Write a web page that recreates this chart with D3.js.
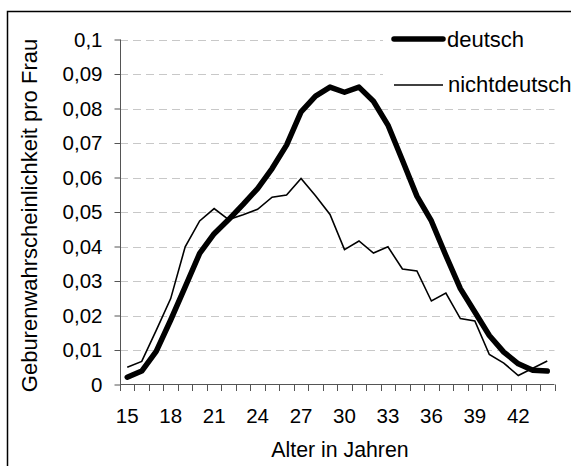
<!DOCTYPE html>
<html><head><meta charset="utf-8">
<script src="https://cdn.jsdelivr.net/npm/d3@7"></script>
<style>body{margin:0;background:#fff;} svg{display:block;font-family:"Liberation Sans",Arial,sans-serif;}</style>
</head><body>
<svg id="c" width="571" height="466"></svg>
<script>
const ages = d3.range(15, 45);
const deutsch = [0.0021,0.0039,0.0096,0.0187,0.0283,0.0380,0.0437,0.0478,0.0522,0.0568,0.0626,0.0694,0.0790,0.0836,0.0862,0.0847,0.0862,0.0821,0.0752,0.0650,0.0546,0.0474,0.0374,0.0278,0.0210,0.0142,0.0094,0.0060,0.0041,0.0039];
const nichtdeutsch = [0.0050,0.0067,0.0157,0.0249,0.0399,0.0474,0.0510,0.0478,0.0492,0.0508,0.0543,0.0549,0.0597,0.0547,0.0493,0.0391,0.0416,0.0381,0.0399,0.0335,0.0329,0.0242,0.0265,0.0191,0.0184,0.0087,0.0062,0.0026,0.0047,0.0068];
const yTicks = [0,0.01,0.02,0.03,0.04,0.05,0.06,0.07,0.08,0.09,0.1];
const xLabelAges = [15,18,21,24,27,30,33,36,39,42];

const svg = d3.select("#c");
const x = d3.scaleBand().domain(ages).range([120, 554.5]);
const y = d3.scaleLinear().domain([0, 0.1]).range([384.5, 39.5]);
const fmt = v => (v === 0 ? "0" : d3.format(".2~f")(v).replace(".", ","));

// frame
svg.append("path").attr("d", "M7.5,470 V11.5 H575").attr("fill","none").attr("stroke","#000").attr("stroke-width",1.5);

// gridlines
svg.append("g").selectAll("line").data(yTicks.filter(d => d > 0)).join("line")
  .attr("x1", 120).attr("x2", 554.5)
  .attr("y1", d => Math.round(y(d)) + 0.5).attr("y2", d => Math.round(y(d)) + 0.5)
  .attr("stroke", "#c8c8c8").attr("stroke-width", 1).attr("stroke-dasharray", "8,5");

// y axis
const yAxis = d3.axisLeft(y).tickValues(yTicks).tickFormat(fmt).tickSize(6).tickPadding(12);
const gy = svg.append("g").attr("transform", "translate(120.5,0)").call(yAxis);
gy.select(".domain").attr("stroke", "#555").attr("d", "M0," + y(0.1) + "V" + y(0));
gy.selectAll(".tick line").attr("stroke", "#555");
gy.selectAll(".tick text").attr("font-size", 20.5).attr("fill", "#000").attr("font-family","Liberation Sans, Arial, sans-serif");

// x axis ticks at band boundaries
const bounds = ages.map(a => x(a)).concat([x(44) + x.bandwidth()]);
svg.append("line").attr("x1", 120).attr("x2", 554.5).attr("y1", 384.5).attr("y2", 384.5).attr("stroke", "#555");
svg.append("g").selectAll("line").data(bounds).join("line")
  .attr("x1", d => Math.round(d) + 0.5).attr("x2", d => Math.round(d) + 0.5)
  .attr("y1", 384.5).attr("y2", 391).attr("stroke", "#555");
svg.append("g").selectAll("text").data(xLabelAges).join("text")
  .attr("x", d => x(d) + x.bandwidth() / 2).attr("y", 423)
  .attr("text-anchor", "middle").attr("font-size", 20.5).text(d => d);

// axis titles
svg.append("text").attr("x", 340).attr("y", 457).attr("text-anchor", "middle").attr("font-size", 21.3).text("Alter in Jahren");
svg.append("text").attr("transform", "translate(37,215.5) rotate(-90)").attr("text-anchor", "middle").attr("font-size", 22).text("Geburenwahrscheinlichkeit pro Frau");

// lines
const line = d3.line().x((d, i) => x(ages[i]) + x.bandwidth() / 2).y(d => y(d));
svg.append("path").datum(nichtdeutsch).attr("d", line).attr("fill", "none").attr("stroke", "#000").attr("stroke-width", 1.6).attr("stroke-linejoin", "miter");
svg.append("path").datum(deutsch).attr("d", line).attr("fill", "none").attr("stroke", "#000").attr("stroke-width", 5.5).attr("stroke-linejoin", "round").attr("stroke-linecap", "round");

// legend
const lg = svg.append("g");
lg.append("rect").attr("x", 383).attr("y", 22).attr("width", 200).attr("height", 78).attr("fill", "#fff");
lg.append("line").attr("x1", 394).attr("x2", 443).attr("y1", 39).attr("y2", 39).attr("stroke", "#000").attr("stroke-width", 5.5).attr("stroke-linecap", "round");
lg.append("text").attr("x", 447).attr("y", 46.5).attr("font-size", 22).text("deutsch");
lg.append("line").attr("x1", 394).attr("x2", 443).attr("y1", 85).attr("y2", 85).attr("stroke", "#000").attr("stroke-width", 1.6);
lg.append("text").attr("x", 448).attr("y", 92).attr("font-size", 22).text("nichtdeutsch");
</script>
</body></html>
